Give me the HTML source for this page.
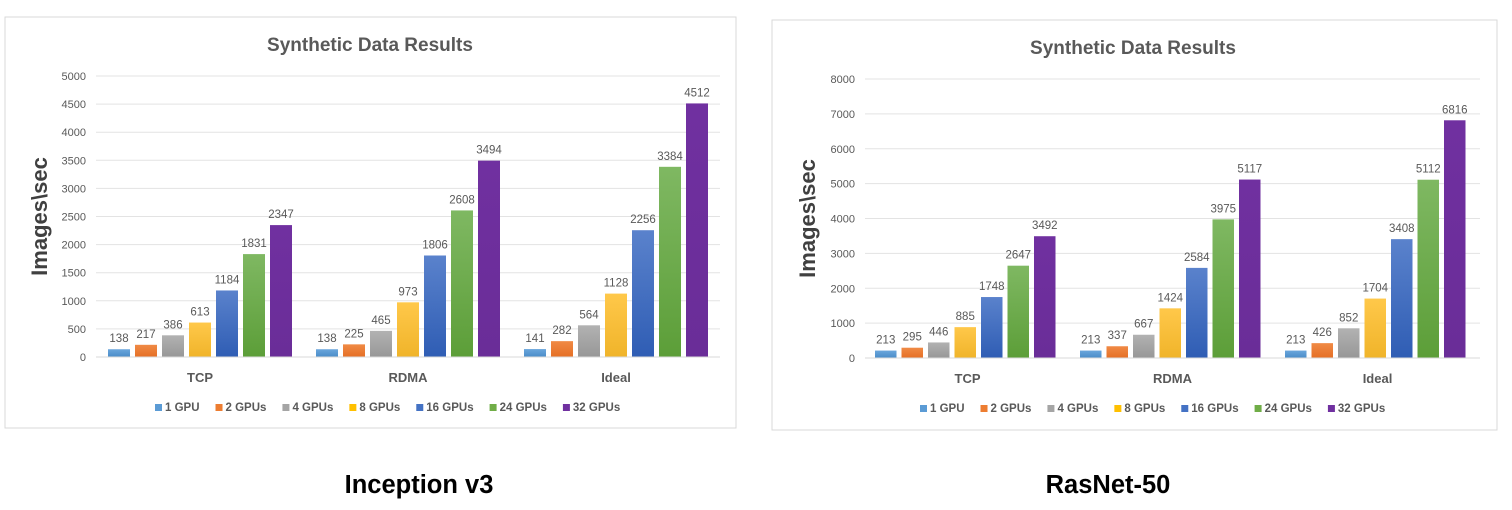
<!DOCTYPE html>
<html><head><meta charset="utf-8"><style>
body{margin:0;background:#fff;width:1512px;height:510px;overflow:hidden;font-family:"Liberation Sans",sans-serif}
svg{position:absolute;left:0;top:0}
</style></head><body>
<svg id="s" width="1512" height="510" xmlns="http://www.w3.org/2000/svg">
<defs>
<linearGradient id="g0" x1="0" y1="0" x2="0" y2="1"><stop offset="0" stop-color="#6aa6dc"/><stop offset="1" stop-color="#4a8cc8"/></linearGradient>
<linearGradient id="g1" x1="0" y1="0" x2="0" y2="1"><stop offset="0" stop-color="#f08a45"/><stop offset="1" stop-color="#e56f25"/></linearGradient>
<linearGradient id="g2" x1="0" y1="0" x2="0" y2="1"><stop offset="0" stop-color="#b2b2b2"/><stop offset="1" stop-color="#979797"/></linearGradient>
<linearGradient id="g3" x1="0" y1="0" x2="0" y2="1"><stop offset="0" stop-color="#ffc84a"/><stop offset="1" stop-color="#f0b42a"/></linearGradient>
<linearGradient id="g4" x1="0" y1="0" x2="0" y2="1"><stop offset="0" stop-color="#5a82cc"/><stop offset="1" stop-color="#2f5db4"/></linearGradient>
<linearGradient id="g5" x1="0" y1="0" x2="0" y2="1"><stop offset="0" stop-color="#7fb862"/><stop offset="1" stop-color="#5c9e38"/></linearGradient>
<linearGradient id="g6" x1="0" y1="0" x2="0" y2="1"><stop offset="0" stop-color="#7030a0"/><stop offset="1" stop-color="#6a2d98"/></linearGradient>
</defs>
</svg>
<script>
const categories=["TCP","RDMA","Ideal"];
const seriesNames=["1 GPU","2 GPUs","4 GPUs","8 GPUs","16 GPUs","24 GPUs","32 GPUs"];
const leftValues=[[138,138,141],[217,225,282],[386,465,564],[613,973,1128],[1184,1806,2256],[1831,2608,3384],[2347,3494,4512]];
const rightValues=[[213,213,213],[295,337,426],[446,667,852],[885,1424,1704],[1748,2584,3408],[2647,3975,5112],[3492,5117,6816]];
const leftTicks=[0,500,1000,1500,2000,2500,3000,3500,4000,4500,5000];
const rightTicks=[0,1000,2000,3000,4000,5000,6000,7000,8000];
const legendColors=["#5b9bd5","#ed7d31","#a5a5a5","#ffc000","#4472c4","#70ad47","#7030a0"];
const NS="http://www.w3.org/2000/svg";
const svg=document.getElementById('s');
function el(t,a,p){const e=document.createElementNS(NS,t);for(const k in a)e.setAttribute(k,a[k]);(p||svg).appendChild(e);return e;}
function chart(cfg,values,ticks,name){
  const g=el('g',{});
  
  
  const box=el('rect',{x:cfg.bx,y:cfg.by,width:cfg.bw,height:cfg.bh,fill:'#fff',stroke:'#d9d9d9','stroke-width':1},g);
  
  
  const t=el('text',{x:cfg.tx,y:cfg.ty,'text-anchor':'middle','font-size':19,'font-weight':'bold',fill:'#595959'},g);t.textContent='Synthetic Data Results';
  
  
  const max=ticks[ticks.length-1];
  const y=v=>cfg.y0-(v/max)*(cfg.y0-cfg.yTop);
  ticks.forEach(tk=>{
    const l=el('line',{x1:cfg.px0,x2:cfg.px1,y1:y(tk),y2:y(tk),stroke:'#e3e3e3','stroke-width':1},g);
    
    
    const tt=el('text',{x:cfg.px0-10,y:y(tk)+4,'text-anchor':'end','font-size':11,fill:'#595959'},g);tt.textContent=tk;
    
    
  });
  const yt=el('text',{x:0,y:0,transform:`translate(${cfg.ytx},${(cfg.y0+cfg.yTop)/2}) rotate(-90)`,'text-anchor':'middle','font-size':22,'font-weight':'bold',fill:'#404040'},g);yt.textContent='Images\\sec';
  
  
  const cw=(cfg.px1-cfg.px0)/categories.length;
  categories.forEach((c,ci)=>{
    const gx=cfg.px0+ci*cw+cfg.off;
    seriesNames.forEach((s,si)=>{
      const v=values[si][ci];
      const x=gx+si*cfg.step;
      const r=el('rect',{x:x,y:y(v),width:cfg.bwid,height:cfg.y0-y(v),fill:`url(#g${si})`},g);
      
      
      const lt=el('text',{x:x+cfg.bwid/2,y:y(v)-7,'text-anchor':'middle','font-size':11.5,fill:'#595959'},g);lt.textContent=v;
      
      
    });
    const ct=el('text',{x:cfg.px0+ci*cw+cw/2,y:cfg.y0+25,'text-anchor':'middle','font-size':13,'font-weight':'bold',fill:'#595959'},g);ct.textContent=c;
    
    
  });
  const ax=el('line',{x1:cfg.px0,x2:cfg.px1,y1:cfg.y0,y2:cfg.y0,stroke:'#d9d9d9'},g);
  
  
  let lx=cfg.lx;
  seriesNames.forEach((s,si)=>{
    const sq=el('rect',{x:lx,y:cfg.ly-7,width:7,height:7,fill:legendColors[si]},g);
    
    
    const lt=el('text',{x:lx+10,y:cfg.ly,'font-size':11.5,'font-weight':'bold',fill:'#595959'},g);lt.textContent=s;
    
    
    lx+=lt.getComputedTextLength()+26;
  });
}
chart({bx:5,by:17,bw:731,bh:411,tx:370,ty:51,y0:357,yTop:76,px0:96,px1:720,off:12,step:27,bwid:22,ytx:47,lx:155,ly:411},leftValues,leftTicks,'inception-chart');
chart({bx:772,by:20,bw:725,bh:410,tx:1133,ty:54,y0:358,yTop:79,px0:865,px1:1480,off:10,step:26.5,bwid:21.5,ytx:815,lx:920,ly:412},rightValues,rightTicks,'resnet-chart');
const c1=el('text',{x:419,y:493,'text-anchor':'middle','font-size':25.5,'font-weight':'bold',fill:'#000'});c1.textContent='Inception v3';


const c2=el('text',{x:1108,y:493,'text-anchor':'middle','font-size':25.5,'font-weight':'bold',fill:'#000'});c2.textContent='RasNet-50';


</script>
</body></html>
